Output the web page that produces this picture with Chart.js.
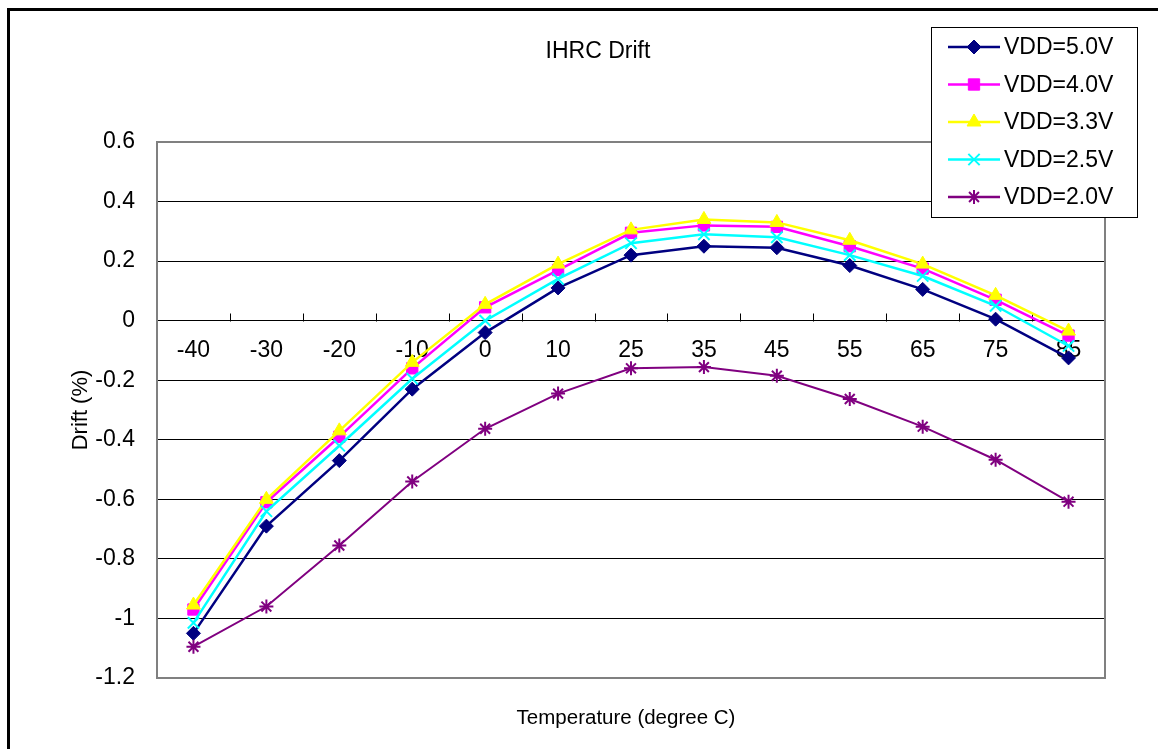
<!DOCTYPE html>
<html>
<head>
<meta charset="utf-8">
<script src="https://cdn.jsdelivr.net/npm/chart.js@4/dist/chart.umd.min.js"></script>
<style>
  html, body { margin: 0; padding: 0; background: #fff; overflow: hidden; }
  #frame { position: absolute; left: 7px; top: 8px; width: 1200px; height: 800px; border-left: 3px solid #000; border-top: 3px solid #000; }
  #chart { position: absolute; left: 0; top: 0; }
</style>
</head>
<body>
<div id="frame"></div>
<canvas id="chart" width="1158" height="749"></canvas>
<script>
// data
const temps = ['-40', '-30', '-20', '-10', '0', '10', '25', '35', '45', '55', '65', '75', '85'];
const vdd50 = [-1.05, -0.69, -0.47, -0.23, -0.04, 0.11, 0.22, 0.25, 0.245, 0.185, 0.105, 0.005, -0.125];
const vdd40 = [-0.97, -0.61, -0.39, -0.16, 0.045, 0.17, 0.295, 0.32, 0.315, 0.25, 0.175, 0.07, -0.05];
const vdd33 = [-0.955, -0.60, -0.37, -0.14, 0.055, 0.19, 0.305, 0.34, 0.33, 0.27, 0.19, 0.085, -0.035];
const vdd25 = [-1.015, -0.64, -0.42, -0.195, 0.0, 0.14, 0.26, 0.29, 0.28, 0.22, 0.15, 0.05, -0.085];
const vdd20 = [-1.095, -0.96, -0.755, -0.54, -0.363, -0.245, -0.16, -0.156, -0.185, -0.263, -0.356, -0.467, -0.608];
const seriesNames = ['VDD=5.0V', 'VDD=4.0V', 'VDD=3.3V', 'VDD=2.5V', 'VDD=2.0V'];
const yTicks = [-1.2, -1, -0.8, -0.6, -0.4, -0.2, 0, 0.2, 0.4, 0.6];

const FONT = '"Liberation Sans", Arial, sans-serif';

const styles = [
  { color: '#000080', pointStyle: 'rectRot', radius: 7, bw: 1 },
  { color: '#ff00ff', pointStyle: 'rect', radius: 8, bw: 1 },
  { color: '#ffff00', pointStyle: 'triangle', radius: 8, bw: 1 },
  { color: '#00ffff', pointStyle: 'crossRot', radius: 8, bw: 2 },
  { color: '#800080', pointStyle: 'star', radius: 7, bw: 2 }
];
const seriesData = [vdd50, vdd40, vdd33, vdd25, vdd20];

const datasets = seriesData.map((d, i) => ({
  label: seriesNames[i],
  data: d,
  borderColor: styles[i].color,
  backgroundColor: styles[i].color,
  borderWidth: i === 4 ? 2 : 2.5,
  pointStyle: styles[i].pointStyle,
  pointRadius: styles[i].radius,
  pointHoverRadius: styles[i].radius,
  pointBorderWidth: styles[i].bw,
  pointBackgroundColor: styles[i].color,
  pointBorderColor: styles[i].color,
  tension: 0,
  order: 5 - i   // later series on top, like Excel
}));

// plot frame, tick marks on the zero axis, titles and legend box
const excelBits = {
  id: 'excelBits',
  beforeDatasetsDraw(chart) {
    const { ctx, chartArea: a, scales: { x, y } } = chart;
    ctx.save();
    ctx.strokeStyle = '#808080';
    ctx.lineWidth = 2;
    ctx.strokeRect(a.left, a.top, a.right - a.left, a.bottom - a.top);
    // little upward tick marks between categories
    const y0 = Math.round(y.getPixelForValue(0)) + 0.5;
    ctx.strokeStyle = '#000';
    ctx.lineWidth = 1;
    ctx.beginPath();
    for (let i = 0; i < temps.length - 1; i++) {
      const px = Math.round((x.getPixelForValue(i) + x.getPixelForValue(i + 1)) / 2) + 0.5;
      ctx.moveTo(px, y0);
      ctx.lineTo(px, y0 - 8);
    }
    ctx.stroke();
    ctx.restore();
  },
  afterDraw(chart) {
    const { ctx } = chart;
    ctx.save();
    ctx.fillStyle = '#000';
    ctx.textAlign = 'center';
    ctx.textBaseline = 'middle';
    ctx.font = '23px ' + FONT;
    ctx.fillText('IHRC Drift', 598, 52);
    ctx.font = '20.5px ' + FONT;
    ctx.fillText('Temperature (degree C)', 626, 718);

    // legend
    ctx.fillStyle = '#fff';
    ctx.fillRect(931, 27, 206, 190);
    ctx.strokeStyle = '#000';
    ctx.lineWidth = 1;
    ctx.strokeRect(931.5, 27.5, 206, 190);
    ctx.font = '23px ' + FONT;
    ctx.textAlign = 'left';
    seriesNames.forEach((name, i) => {
      const ly = 47 + i * 37.5;
      const st = styles[i];
      ctx.strokeStyle = st.color;
      ctx.lineWidth = 2.5;
      ctx.beginPath();
      ctx.moveTo(948, ly);
      ctx.lineTo(1000, ly);
      ctx.stroke();
      ctx.fillStyle = st.color;
      ctx.lineWidth = st.bw;
      if (Chart.helpers && Chart.helpers.drawPoint) {
        Chart.helpers.drawPoint(ctx, { pointStyle: st.pointStyle, radius: st.radius, borderWidth: st.bw, rotation: 0 }, 974, ly);
      }
      ctx.fillStyle = '#000';
      ctx.fillText(name, 1004, ly + 1);
    });
    ctx.restore();
  }
};

new Chart(document.getElementById('chart'), {
  type: 'line',
  data: { labels: temps, datasets },
  options: {
    responsive: false,
    animation: false,
    devicePixelRatio: 1,
    layout: { padding: { left: 37, right: 53, top: 142, bottom: 71 } },
    plugins: {
      legend: { display: false },
      title: { display: false },
      tooltip: { enabled: false }
    },
    scales: {
      x: {
        type: 'category',
        position: { y: 0 },
        offset: true,
        afterFit(scale) { scale.height = 0; },
        grid: { display: false, drawTicks: false },
        border: { display: true, color: '#000', width: 1 },
        ticks: {
          color: '#000',
          font: { family: FONT, size: 23 },
          padding: 16,
          autoSkip: false,
          maxRotation: 0
        }
      },
      y: {
        min: -1.2,
        max: 0.6,
        afterFit(scale) { scale.width = 120; },
        afterBuildTicks(scale) { scale.ticks = yTicks.map(v => ({ value: v })); },
        grid: { color: '#000', lineWidth: 1, drawTicks: false },
        border: { display: false },
        ticks: {
          color: '#000',
          font: { family: FONT, size: 23 },
          padding: 22,
          callback: v => String(Number(v.toFixed(1)))
        },
        title: {
          display: true,
          text: 'Drift (%)',
          color: '#000',
          font: { family: FONT, size: 22 },
          padding: { top: 31, bottom: 0 }
        }
      }
    }
  },
  plugins: [excelBits]
});
</script>
</body>
</html>
